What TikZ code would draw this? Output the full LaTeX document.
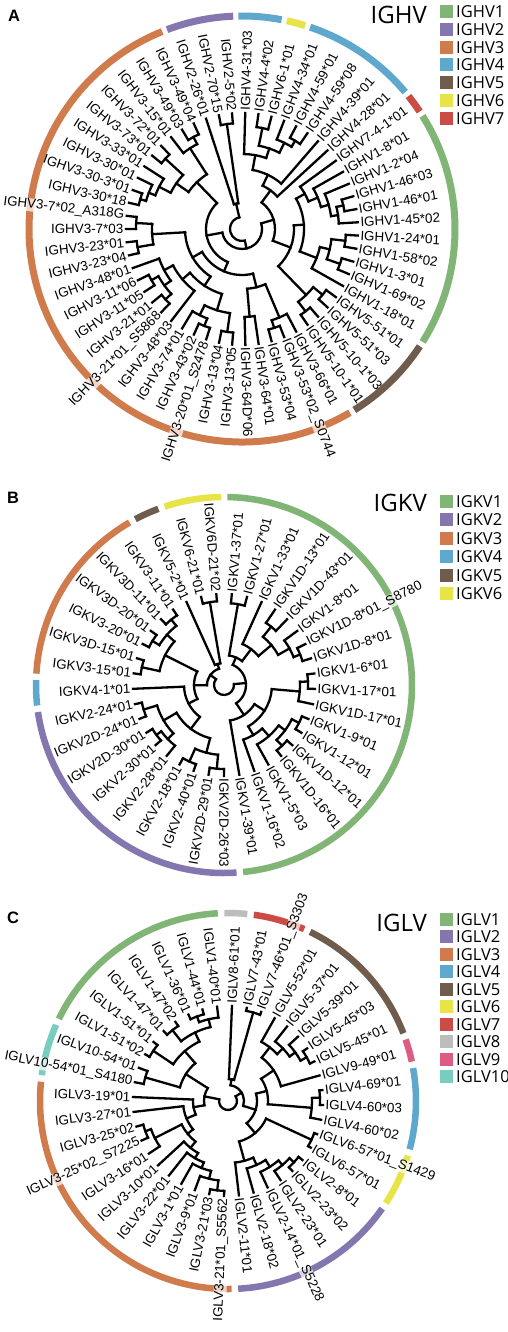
\documentclass[tikz,border=0pt]{standalone}
\usepackage{fontspec}
\newfontfamily\lf{Liberation Sans}
\newfontfamily\of{Open Sans}
\definecolor{colg}{RGB}{128,181,118}
\definecolor{colp}{RGB}{132,118,175}
\definecolor{colo}{RGB}{208,123,76}
\definecolor{colb}{RGB}{93,168,204}
\definecolor{colbr}{RGB}{112,92,76}
\definecolor{coly}{RGB}{232,228,72}
\definecolor{colr}{RGB}{204,75,68}
\definecolor{colgr}{RGB}{189,189,189}
\definecolor{colpk}{RGB}{222,92,132}
\definecolor{colt}{RGB}{121,205,190}
\tikzset{br/.style={line width=2.3pt,line cap=rect,black},
 lbl/.style={font=\lf\fontsize{13.4}{14}\selectfont,inner sep=0.5pt},
 hl/.style={fill=white,fill opacity=0.7,text opacity=1},
 leg/.style={font=\of\fontsize{16.5}{18}\selectfont,anchor=base west,inner sep=0pt},
 ttl/.style={font=\of\fontsize{24}{26}\selectfont,anchor=base east,inner sep=0pt},
 pl/.style={font=\lf\bfseries\fontsize{16.5}{18}\selectfont,anchor=base west,inner sep=0pt}}
\newcommand\Ang[2]{\pgfmathsetmacro#1{\qA-((#2)-1)*\qD}}
\newcommand\Lf[2]{\Ang\myA{#1}%
 \draw[br,shift={(\qX pt,\qY pt)}] (\myA:#2pt) -- (\myA:\qT pt);}
\newcommand\Nd[4]{\Ang\myA{#1}\Ang\myB{#2}\pgfmathsetmacro\myM{(\myA+\myB)/2}%
 \draw[br,shift={(\qX pt,\qY pt)}] (\myA:#3pt) arc[start angle=\myA,end angle=\myB,radius=#3pt];
 \draw[br,shift={(\qX pt,\qY pt)}] (\myM:#4pt) -- (\myM:#3pt);}
\newcommand\Rt[3]{\Ang\myA{#1}\Ang\myB{#2}%
 \draw[br,shift={(\qX pt,\qY pt)}] (\myA:#3pt) arc[start angle=\myA,end angle=\myB,radius=#3pt];}
\newcommand\Rg[3]{\Ang\myA{#1}\Ang\myB{#2}%
 \pgfmathsetmacro\myS{\myA+\qD/2-\qG}\pgfmathsetmacro\myE{\myB-\qD/2+\qG}%
 \draw[line width=\qW pt,draw=#3,shift={(\qX pt,\qY pt)}] (\myS:\qR pt) arc[start angle=\myS,end angle=\myE,radius=\qR pt];}
\newcommand\Lb[3][]{\Ang\myA{#2}%
 \pgfmathparse{cos(\myA)>-0.001?1:0}%
 \ifdim\pgfmathresult pt>0.5pt
  \node[lbl,anchor=west,rotate=\myA,#1] (\qN#2) at ([shift={(\qX pt,\qY pt)}]\myA:\qL pt) {#3};%
 \else
  \pgfmathsetmacro\myR{\myA+180}%
  \node[lbl,anchor=east,rotate=\myR,#1] (\qN#2) at ([shift={(\qX pt,\qY pt)}]\myA:\qL pt) {#3};%
 \fi}
\begin{document}
\begin{tikzpicture}[x=1pt,y=1pt]
\useasboundingbox (0,0) rectangle (508,-1332);
\fill[white] (0,0) rectangle (508,-1332);
% ================= PANEL A =================
\def\qX{242}\def\qY{-229}\def\qA{88.4}\def\qD{6.5455}\def\qT{116}\def\qL{118}\def\qR{213}\def\qW{7}\def\qG{0.7}\def\qN{A}
\Lf{1}{75}\Lf{2}{103}\Lf{3}{103}\Lf{4}{96}\Lf{5}{103}\Lf{6}{103}\Lf{7}{60}\Lf{8}{48}
\Lf{9}{72}\Lf{10}{82}\Lf{11}{90}\Lf{12}{104}\Lf{13}{104}\Lf{14}{97}\Lf{15}{104}\Lf{16}{104}\Lf{17}{104}\Lf{18}{104}\Lf{19}{80}
\Lf{20}{104}\Lf{21}{104}\Lf{22}{104}\Lf{23}{104}
\Lf{24}{96}\Lf{25}{104}\Lf{26}{104}\Lf{27}{88}\Lf{28}{88}\Lf{29}{104}\Lf{30}{104}\Lf{31}{104}\Lf{32}{104}\Lf{33}{96}\Lf{34}{78}\Lf{35}{104}\Lf{36}{104}\Lf{37}{104}\Lf{38}{104}\Lf{39}{88}\Lf{40}{106}\Lf{41}{106}\Lf{42}{106}\Lf{43}{106}\Lf{44}{106}\Lf{45}{106}\Lf{46}{100}\Lf{47}{93}\Lf{48}{104}\Lf{49}{104}\Lf{50}{96}\Lf{51}{104}\Lf{52}{104}\Lf{53}{26}\Lf{54}{106}\Lf{55}{106}
\Nd{2}{3}{103}{85}
\Nd{5}{6}{103}{96}
\Nd{4}{5.5}{96}{85}
\Nd{2.5}{4.75}{85}{75}
\Nd{1}{3.625}{75}{60}
\Nd{2.3125}{7}{60}{48}
\Nd{4.65625}{8}{48}{33}
\Nd{12}{13}{104}{97}
\Nd{12.5}{14}{97}{90}
\Nd{11}{13.25}{90}{82}
\Nd{10}{12.125}{82}{72}
\Nd{9}{11.0625}{72}{62}
\Nd{15}{16}{104}{90}
\Nd{17}{18}{104}{90}
\Nd{15.5}{17.5}{90}{80}
\Nd{16.5}{19}{80}{62}
\Nd{10.03125}{17.75}{62}{52}
\Nd{20}{21}{104}{92}
\Nd{22}{23}{104}{92}
\Nd{20.5}{22.5}{92}{52}
\Nd{13.890625}{21.5}{52}{33}
\Nd{6.328}{17.695}{33}{20}
\Nd{25}{26}{104}{96}
\Nd{24}{25.5}{96}{60}
\Nd{27}{28}{88}{60}
\Nd{24.75}{27.5}{60}{46}
\Nd{29}{30}{104}{85}
\Nd{31}{32}{104}{96}
\Nd{31.5}{33}{96}{85}
\Nd{29.5}{32.25}{85}{68}
\Nd{35}{36}{104}{96}
\Nd{37}{38}{104}{96}
\Nd{35.5}{37.5}{96}{88}
\Nd{36.5}{39}{88}{78}
\Nd{34}{37.75}{78}{68}
\Nd{30.875}{35.875}{68}{57}
\Nd{40}{41}{106}{90}
\Nd{42}{43}{106}{90}
\Nd{40.5}{42.5}{90}{57}
\Nd{33.375}{41.5}{57}{46}
\Nd{26.125}{37.4375}{46}{36}
\Nd{44}{45}{106}{100}
\Nd{44.5}{46}{100}{93}
\Nd{45.25}{47}{93}{80}
\Nd{48}{49}{104}{80}
\Nd{46.125}{48.5}{80}{65}
\Nd{51}{52}{104}{96}
\Nd{50}{51.5}{96}{65}
\Nd{47.3125}{50.75}{65}{36}
\Nd{31.78}{49.03}{36}{20}
\Nd{12.01}{40.41}{20}{12}
\Nd{54}{55}{106}{26}
\Nd{53}{54.5}{26}{12}
\Rt{26.21}{53.75}{12}
\Rg{1}{2}{colb}\Rg{3}{3}{coly}\Rg{4}{8}{colb}\Rg{9}{9}{colr}\Rg{10}{19}{colg}\Rg{20}{23}{colbr}\Rg{24}{52}{colo}\Rg{53}{55}{colp}
\Lb{1}{IGHV4-31*03}\Lb{2}{IGHV4-4*02}\Lb{3}{IGHV6-1*01}\Lb{4}{IGHV4-34*01}\Lb{5}{IGHV4-59*01}
\Lb{6}{IGHV4-59*08}\Lb{7}{IGHV4-39*01}\Lb{8}{IGHV4-28*01}\Lb{9}{IGHV7-4-1*01}\Lb{10}{IGHV1-8*01}
\Lb{11}{IGHV1-2*04}\Lb{12}{IGHV1-46*03}\Lb{13}{IGHV1-46*01}\Lb{14}{IGHV1-45*02}\Lb{15}{IGHV1-24*01}
\Lb{16}{IGHV1-58*02}\Lb{17}{IGHV1-3*01}\Lb{18}{IGHV1-69*02}\Lb{19}{IGHV1-18*01}\Lb{20}{IGHV5-51*01}
\Lb{21}{IGHV5-51*03}\Lb{22}{IGHV5-10-1*03}\Lb{23}{IGHV5-10-1*01}\Lb{24}{IGHV3-66*01}\Lb[hl]{25}{IGHV3-53*02\_S0744}
\Lb{26}{IGHV3-53*04}\Lb{27}{IGHV3-64*01}\Lb{28}{IGHV3-64D*06}\Lb{29}{IGHV3-13*05}\Lb{30}{IGHV3-13*04}
\Lb[hl]{31}{IGHV3-20*01\_S2478}\Lb{32}{IGHV3-43*02}\Lb{33}{IGHV3-74*01}\Lb{34}{IGHV3-48*03}\Lb[hl]{35}{IGHV3-21*01\_S5868}
\Lb{36}{IGHV3-21*01}\Lb{37}{IGHV3-11*05}\Lb{38}{IGHV3-11*06}\Lb{39}{IGHV3-48*01}\Lb{40}{IGHV3-23*04}
\Lb{41}{IGHV3-23*01}\Lb{42}{IGHV3-7*03}\Lb[hl]{43}{IGHV3-7*02\_A318G}\Lb{44}{IGHV3-30*18}\Lb{45}{IGHV3-30-3*01}
\Lb{46}{IGHV3-30*01}\Lb{47}{IGHV3-33*01}\Lb{48}{IGHV3-73*01}\Lb{49}{IGHV3-72*01}\Lb{50}{IGHV3-15*01}
\Lb{51}{IGHV3-49*03}\Lb{52}{IGHV3-49*04}\Lb{53}{IGHV2-26*01}\Lb{54}{IGHV2-70*15}\Lb{55}{IGHV2-5*02}
\node[pl] (pA) at (8,-22) {A};
\node[ttl] (tA) at (427,-24) {IGHV};
\foreach \c/\t [count=\k from 0] in {colg/IGHV1,colp/IGHV2,colo/IGHV3,colb/IGHV4,colbr/IGHV5,coly/IGHV6,colr/IGHV7}{
 \fill[\c] (440,-5-17.8*\k) rectangle ++(13,-13);
 \node[leg] (legA\k) at (456,-17.5-17.8*\k) {\t};}
% ================= PANEL B =================
\def\qX{224}\def\qY{-685}\def\qA{85.1}\def\qD{9.7297}\def\qT{91}\def\qL{93}\def\qR{188}\def\qW{6.5}\def\qG{1}\def\qN{B}
\Lf{1}{82}\Lf{2}{82}\Lf{3}{45}\Lf{4}{75}\Lf{5}{75}\Lf{6}{75}\Lf{7}{82}\Lf{8}{82}\Lf{9}{84}\Lf{10}{84}\Lf{11}{76}\Lf{12}{84}\Lf{13}{84}\Lf{14}{84}\Lf{15}{84}\Lf{16}{68}\Lf{17}{58}\Lf{18}{36}\Lf{19}{84}\Lf{20}{84}\Lf{21}{84}\Lf{22}{84}\Lf{23}{78}\Lf{24}{84}\Lf{25}{84}\Lf{26}{84}\Lf{27}{84}\Lf{28}{40}\Lf{29}{84}\Lf{30}{84}\Lf{31}{84}\Lf{32}{84}\Lf{33}{84}\Lf{34}{84}\Lf{35}{22}\Lf{36}{84}\Lf{37}{84}
\Nd{1}{2}{82}{30}
\Nd{4}{5}{75}{62}
\Nd{7}{8}{82}{75}
\Nd{6}{7.5}{75}{62}
\Nd{4.5}{6.75}{62}{45}
\Nd{3}{5.625}{45}{30}
\Nd{1.5}{4.3125}{30}{22}
\Nd{9}{10}{84}{76}
\Nd{9.5}{11}{76}{48}
\Nd{12}{13}{84}{76}
\Nd{14}{15}{84}{76}
\Nd{12.5}{14.5}{76}{68}
\Nd{13.5}{16}{68}{58}
\Nd{14.75}{17}{58}{48}
\Nd{10.25}{15.875}{48}{36}
\Nd{13.0625}{18}{36}{22}
\Nd{2.90625}{15.53125}{22}{10}
\Nd{19}{20}{84}{70}
\Nd{21}{22}{84}{70}
\Nd{19.5}{21.5}{70}{55}
\Nd{24}{25}{84}{78}
\Nd{23}{24.5}{78}{70}
\Nd{26}{27}{84}{70}
\Nd{23.75}{26.5}{70}{55}
\Nd{20.5}{25.125}{55}{40}
\Nd{22.8125}{28}{40}{30}
\Nd{29}{30}{84}{66}
\Nd{31}{32}{84}{76}
\Nd{33}{34}{84}{76}
\Nd{31.5}{33.5}{76}{66}
\Nd{29.5}{32.5}{66}{30}
\Nd{25.40625}{31}{30}{17}
\Nd{36}{37}{84}{22}
\Nd{35}{36.5}{22}{17}
\Nd{28.203}{35.75}{17}{10}
\Rt{9.21875}{31.977}{10}
\Rg{1}{18}{colg}\Rg{19}{27}{colp}\Rg{28}{28}{colb}\Rg{29}{34}{colo}\Rg{35}{35}{colbr}\Rg{36}{37}{coly}
\Lb{1}{IGKV1-37*01}\Lb{2}{IGKV1-27*01}\Lb{3}{IGKV1-33*01}\Lb{4}{IGKV1D-13*01}\Lb{5}{IGKV1D-43*01}
\Lb{6}{IGKV1-8*01}\Lb[hl]{7}{IGKV1D-8*01\_S8780}\Lb{8}{IGKV1D-8*01}\Lb{9}{IGKV1-6*01}\Lb{10}{IGKV1-17*01}
\Lb{11}{IGKV1D-17*01}\Lb{12}{IGKV1-9*01}\Lb{13}{IGKV1-12*01}\Lb{14}{IGKV1D-12*01}\Lb{15}{IGKV1D-16*01}
\Lb{16}{IGKV1-5*03}\Lb{17}{IGKV1-16*02}\Lb{18}{IGKV1-39*01}\Lb{19}{IGKV2D-26*03}\Lb{20}{IGKV2D-29*01}
\Lb{21}{IGKV2-40*01}\Lb{22}{IGKV2-18*01}\Lb{23}{IGKV2-28*01}\Lb{24}{IGKV2-30*01}\Lb{25}{IGKV2D-30*01}
\Lb{26}{IGKV2D-24*01}\Lb{27}{IGKV2-24*01}\Lb{28}{IGKV4-1*01}\Lb{29}{IGKV3-15*01}\Lb{30}{IGKV3D-15*01}
\Lb{31}{IGKV3-20*01}\Lb{32}{IGKV3D-20*01}\Lb{33}{IGKV3D-11*01}\Lb{34}{IGKV3-11*01}\Lb{35}{IGKV5-2*01}
\Lb{36}{IGKV6-21*01}\Lb{37}{IGKV6D-21*02}
\node[pl] (pB) at (7,-503) {B};
\node[ttl] (tB) at (427,-511) {IGKV};
\foreach \c/\t [count=\k from 0] in {colg/IGKV1,colp/IGKV2,colo/IGKV3,colb/IGKV4,colbr/IGKV5,coly/IGKV6}{
 \fill[\c] (440,-495-18.4*\k) rectangle ++(13,-13);
 \node[leg] (legB\k) at (456,-507.5-18.4*\k) {\t};}
% ================= PANEL C =================
\def\qX{228}\def\qY{-1101}\def\qA{87.6}\def\qD{9}\def\qT{95}\def\qL{97}\def\qR{188}\def\qW{6.5}\def\qG{1}\def\qN{C}
\Lf{1}{22}\Lf{2}{92}\Lf{3}{92}\Lf{4}{68}\Lf{5}{76}\Lf{6}{83}\Lf{7}{90}\Lf{8}{90}\Lf{9}{55}\Lf{10}{92}\Lf{11}{92}\Lf{12}{84}\Lf{13}{92}\Lf{14}{92}\Lf{15}{90}\Lf{16}{90}\Lf{17}{84}\Lf{18}{78}\Lf{19}{70}\Lf{20}{62}\Lf{21}{90}\Lf{22}{90}\Lf{23}{80}\Lf{24}{72}\Lf{25}{66}\Lf{26}{60}\Lf{27}{82}\Lf{28}{88}\Lf{29}{88}\Lf{30}{45}\Lf{31}{35}\Lf{32}{86}\Lf{33}{86}\Lf{34}{90}\Lf{35}{90}\Lf{36}{90}\Lf{37}{90}\Lf{38}{90}\Lf{39}{90}\Lf{40}{84}
\Nd{2}{3}{92}{22}
\Nd{7}{8}{90}{83}
\Nd{6}{7.5}{83}{76}
\Nd{5}{6.75}{76}{68}
\Nd{4}{5.875}{68}{55}
\Nd{4.9375}{9}{55}{40}
\Nd{10}{11}{92}{84}
\Nd{10.5}{12}{84}{40}
\Nd{6.96875}{11.25}{40}{29}
\Nd{13}{14}{92}{42}
\Nd{15}{16}{90}{84}
\Nd{15.5}{17}{84}{78}
\Nd{16.25}{18}{78}{70}
\Nd{17.125}{19}{70}{62}
\Nd{18.0625}{20}{62}{42}
\Nd{13.5}{19.03125}{42}{29}
\Nd{9.109}{16.266}{29}{16}
\Nd{1}{2.5}{22}{16}
\Nd{1.75}{12.6875}{16}{9}
\Nd{21}{22}{90}{80}
\Nd{21.5}{23}{80}{72}
\Nd{22.25}{24}{72}{66}
\Nd{23.125}{25}{66}{60}
\Nd{24.0625}{26}{60}{52}
\Nd{28}{29}{88}{82}
\Nd{27}{28.5}{82}{52}
\Nd{25.03125}{27.75}{52}{45}
\Nd{26.39}{30}{45}{35}
\Nd{28.195}{31}{35}{24}
\Nd{32}{33}{86}{50}
\Nd{38}{39}{90}{84}
\Nd{38.5}{40}{84}{76}
\Nd{36}{37}{90}{76}
\Nd{36.5}{39.25}{76}{66}
\Nd{34}{35}{90}{66}
\Nd{34.5}{37.875}{66}{50}
\Nd{32.5}{36.1875}{50}{24}
\Nd{29.5975}{34.34}{24}{9}
\Rt{7.22}{31.97}{9}
\Rg{1}{1}{colgr}\Rg{2}{3}{colr}\Rg{4}{8}{colbr}\Rg{9}{9}{colpk}\Rg{10}{12}{colb}\Rg{13}{14}{coly}\Rg{15}{20}{colp}\Rg{21}{31}{colo}\Rg{32}{33}{colt}\Rg{34}{40}{colg}
\Lb{1}{IGLV8-61*01}\Lb{2}{IGLV7-43*01}\Lb[hl]{3}{IGLV7-46*01\_S3303}\Lb{4}{IGLV5-52*01}\Lb{5}{IGLV5-37*01}
\Lb{6}{IGLV5-39*01}\Lb{7}{IGLV5-45*03}\Lb{8}{IGLV5-45*01}\Lb{9}{IGLV9-49*01}\Lb{10}{IGLV4-69*01}
\Lb{11}{IGLV4-60*03}\Lb{12}{IGLV4-60*02}\Lb[hl]{13}{IGLV6-57*01\_S1429}\Lb{14}{IGLV6-57*01}\Lb{15}{IGLV2-8*01}
\Lb{16}{IGLV2-23*02}\Lb{17}{IGLV2-23*01}\Lb[hl]{18}{IGLV2-14*01\_S5228}\Lb{19}{IGLV2-18*02}\Lb{20}{IGLV2-11*01}
\Lb[hl]{21}{IGLV3-21*01\_S5562}\Lb{22}{IGLV3-21*03}\Lb{23}{IGLV3-9*01}\Lb{24}{IGLV3-1*01}\Lb{25}{IGLV3-22*01}
\Lb{26}{IGLV3-10*01}\Lb{27}{IGLV3-16*01}\Lb[hl]{28}{IGLV3-25*02\_S7225}\Lb{29}{IGLV3-25*02}\Lb{30}{IGLV3-27*01}
\Lb{31}{IGLV3-19*01}\Lb[hl]{32}{IGLV10-54*01\_S4180}\Lb{33}{IGLV10-54*01}\Lb{34}{IGLV1-51*02}\Lb{35}{IGLV1-51*01}
\Lb{36}{IGLV1-47*01}\Lb{37}{IGLV1-47*02}\Lb{38}{IGLV1-36*01}\Lb{39}{IGLV1-44*01}\Lb{40}{IGLV1-40*01}
\node[pl] (pC) at (7,-923) {C};
\node[ttl] (tC) at (427,-931) {IGLV};
\foreach \c/\t [count=\k from 0] in {colg/IGLV1,colp/IGLV2,colo/IGLV3,colb/IGLV4,colbr/IGLV5,coly/IGLV6,colr/IGLV7,colgr/IGLV8,colpk/IGLV9,colt/IGLV10}{
 \fill[\c] (440,-913-17.44*\k) rectangle ++(13,-13);
 \node[leg] (legC\k) at (456,-925.5-17.44*\k) {\t};}
\end{tikzpicture}
\end{document}
